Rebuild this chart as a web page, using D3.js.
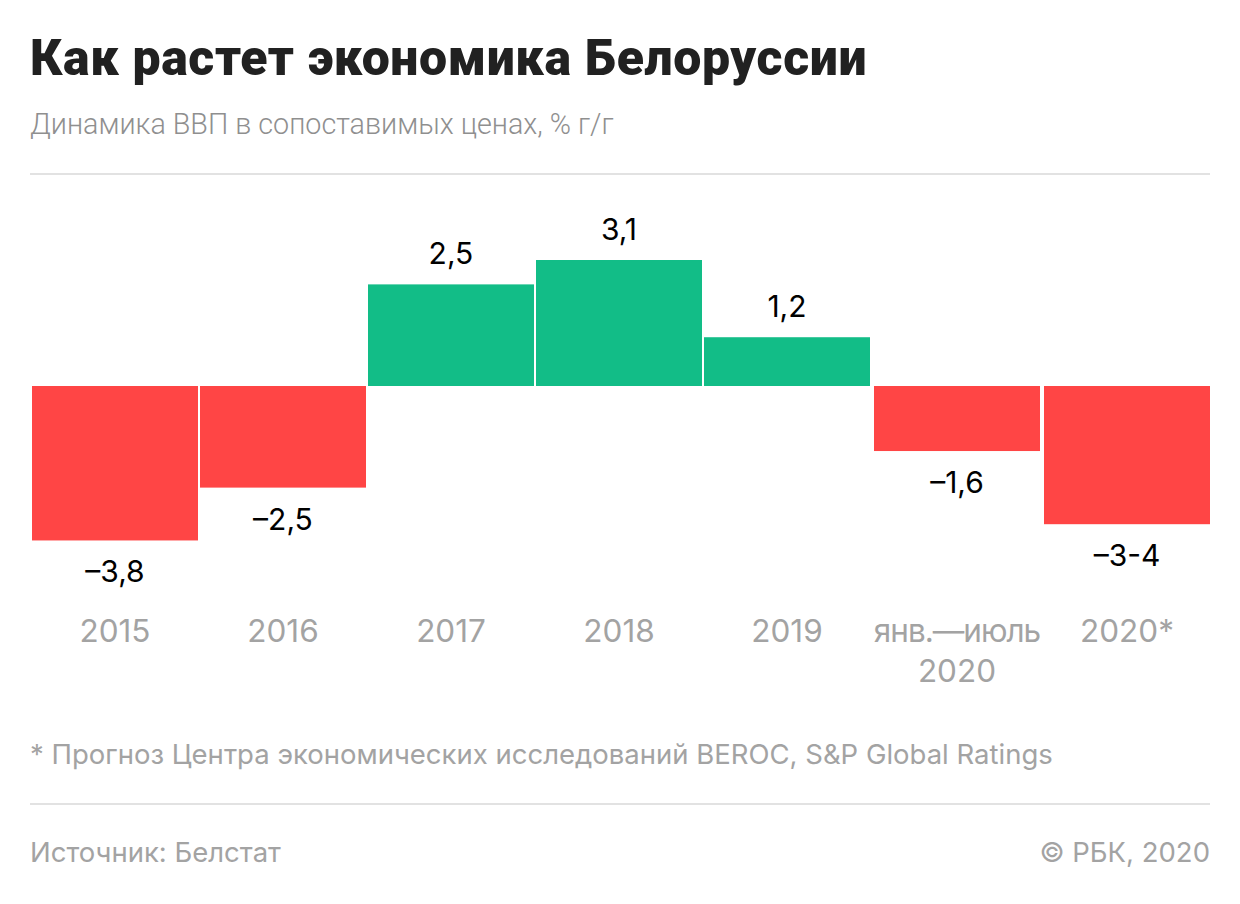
<!DOCTYPE html>
<html lang="ru">
<head>
<meta charset="UTF-8">
<title>Как растет экономика Белоруссии</title>
<script src="https://d3js.org/d3.v7.min.js"></script>
<style>
    html, body { margin: 0; padding: 0; background: #fff; }
    svg { display: block; font-family: Inter, "Noto Sans", sans-serif; }
    .title { font-family: Roboto, sans-serif; font-size: 50px; font-weight: 900; fill: #212121; letter-spacing: 0.6px; }
    .sub { font-family: Roboto, sans-serif; font-size: 28.7px; font-weight: 300; fill: #8f8f8f; }
    .grey { font-size: 27.5px; fill: #a3a3a3; }
    .value { font-size: 30px; fill: #000; text-anchor: middle; }
    .cat { font-size: 31.5px; fill: #a3a3a3; text-anchor: middle; }
    .tight { letter-spacing: -1px; }
    .rule { stroke: #e2e2e2; stroke-width: 2px; }
</style>
</head>
<body>
<svg width="1240" height="904"></svg>
<script>
    const categories = ["2015", "2016", "2017", "2018", "2019", "янв.—июль|2020", "2020*"];
    const values = [-3.8, -2.5, 2.5, 3.1, 1.2, -1.6, -3.4];
    const valueLabels = ["–3,8", "–2,5", "2,5", "3,1", "1,2", "–1,6", "–3-4"];

    const svg = d3.select("svg");

    // годы и периоды 2020 идут двумя группами, между ними зазор чуть шире
    const xYears = d3.scaleBand().domain(categories.slice(0, 5)).range([32, 870]).paddingInner(2 / 168);
    const x2020 = d3.scaleBand().domain(categories.slice(5)).range([874, 1210]).paddingInner(4 / 170);
    const x = c => xYears(c) !== undefined ? xYears(c) : x2020(c);
    const barW = xYears.bandwidth();
    const y = d3.scaleLinear().domain([0, 3.1]).range([386, 260]);

    svg.append("text").attr("class", "title").attr("x", 30).attr("y", 75).text("Как растет экономика Белоруссии");
    svg.append("text").attr("class", "sub").attr("x", 30).attr("y", 134).text("Динамика ВВП в сопоставимых ценах, % г/г");
    svg.append("line").attr("class", "rule").attr("x1", 30).attr("x2", 1210).attr("y1", 174).attr("y2", 174);

    // столбики
    svg.selectAll(".bar")
        .data(values)
        .enter().append("rect")
        .attr("class", "bar")
        .attr("x", (d, i) => x(categories[i]))
        .attr("width", barW)
        .attr("y", d => Math.min(y(d), y(0)))
        .attr("height", d => Math.abs(y(d) - y(0)))
        .attr("fill", d => d > 0 ? "#12bd87" : "#ff4545");

    svg.selectAll(".value")
        .data(values)
        .enter().append("text")
        .attr("class", "value")
        .attr("x", (d, i) => x(categories[i]) + barW / 2)
        .attr("y", d => d > 0 ? y(d) - 20 : y(d) + 42)
        .text((d, i) => valueLabels[i]);

    categories.forEach(c => {
        const t = svg.append("text").attr("class", "cat").attr("y", 642);
        const lines = c.split("|");
        lines.forEach((line, j) => {
            t.append("tspan")
                .attr("class", lines.length > 1 && j === 0 ? "tight" : null)
                .attr("x", x(c) + barW / 2)
                .attr("dy", j ? 40 : 0)
                .text(line);
        });
    });

    svg.append("text").attr("class", "grey").attr("x", 30).attr("y", 764).text("* Прогноз Центра экономических исследований BEROC, S&P Global Ratings");
    svg.append("line").attr("class", "rule").attr("x1", 30).attr("x2", 1210).attr("y1", 804).attr("y2", 804);
    svg.append("text").attr("class", "grey").attr("x", 30).attr("y", 862).text("Источник: Белстат");
    svg.append("text").attr("class", "grey").attr("x", 1210).attr("y", 862).attr("text-anchor", "end").text("© РБК, 2020");
</script>
</body>
</html>
